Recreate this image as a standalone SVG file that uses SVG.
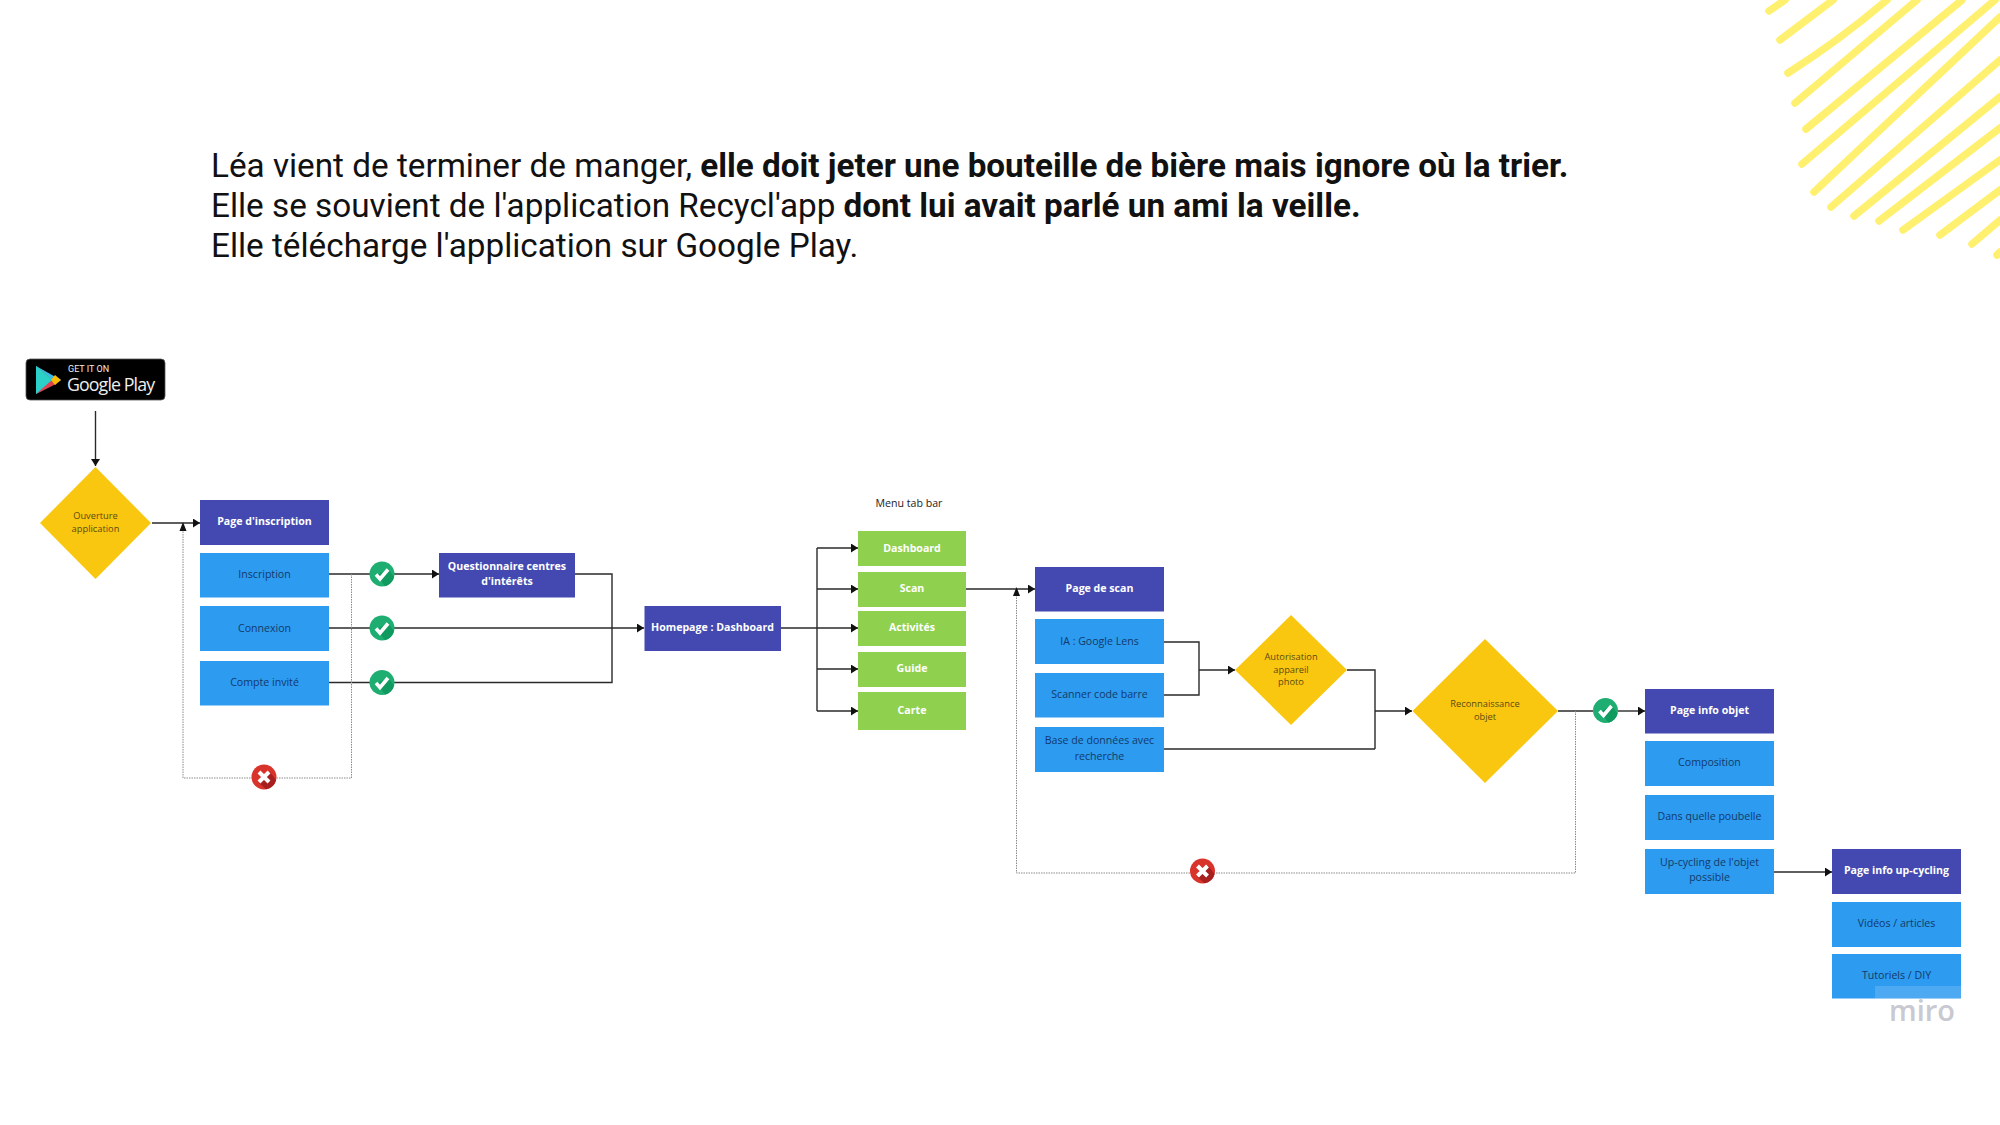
<svg xmlns="http://www.w3.org/2000/svg" width="2000" height="1125" viewBox="0 0 2000 1125">
<style>
.h{font-family:Roboto,"Liberation Sans",sans-serif;font-size:33.28px;fill:#111}
text.n{font-family:"Open Sans","Noto Sans",sans-serif;font-size:10.6px;text-anchor:middle}
text.ty{font-size:9.3px}
.p{fill:#4349b0}.b{fill:#2d9bf0}.g{fill:#8fd14f}.y{fill:#fac710}
.tw{fill:#fff;font-weight:700}.td{fill:#123a6b}.ty{fill:#5b4a12}
.c{fill:none;stroke:#2a2a2a;stroke-width:1.4}
.a{marker-end:url(#ar)}
.d{fill:none;stroke:#8a8a8a;stroke-width:1;stroke-dasharray:1.5 1}
.s{fill:none;stroke:#fff070;stroke-width:7.5;stroke-linecap:round}
</style>
<defs>
<marker id="ar" markerUnits="userSpaceOnUse" markerWidth="8" markerHeight="10" refX="7" refY="4.5" orient="auto"><path d="M0 0L7 4.5L0 9z" fill="#111"/></marker>
<g id="ok"><circle r="12.5" fill="#1fae72"/><path d="M-5 1L3 12.2A12.5 12.5 0 0 0 12 3L6-5z" fill="#0f9a60"/><path d="M-6 0.5L-2 5L6-4.5" fill="none" stroke="#fff" stroke-width="3.6"/></g>
<g id="ko"><circle r="12.5" fill="#d9342c"/><path d="M-5 6L2 12.3A12.5 12.5 0 0 0 12 3L6-5z" fill="#a81f20"/><path d="M-5-5L5 5M5-5L-5 5" fill="none" stroke="#fff" stroke-width="4"/></g>
</defs>
<rect width="2000" height="1125" fill="#fff"/>
<g id="stripes">
<path class="s" d="M1769 11L1785 0M1780 40L1833 0M1788 73Q1840 40 1887 0M1795 103L1917 0M1806 129L1962 0M1802 164L1995 0M1814 192L2000 17M1831 207L2000 60M1854 216L2000 97M1879 221L2000 128M1903 230L2000 160M1940 235L2000 190M1972 244L2000 220M1997 255L2000 252"/>
</g>
<g id="heading">
<text class="h" x="211" y="177">Léa vient de terminer de manger, <tspan font-weight="700">elle doit jeter une bouteille de bière mais ignore où la trier.</tspan></text>
<text class="h" x="211" y="217">Elle se souvient de l'application Recycl'app <tspan font-weight="700">dont lui avait parlé un ami la veille.</tspan></text>
<text class="h" x="211" y="257">Elle télécharge l'application sur Google Play.</text>
</g>
<g id="connectors">
<path class="c a" d="M95.500 411V466"/>
<path class="c a" d="M152 523H200"/>
<path class="c" d="M329 574H370"/>
<path class="c a" d="M394 574H439"/>
<path class="c a" d="M329 628H644"/>
<path class="c" d="M329 682.500H612V574H575"/>
<path class="c" d="M781 628H817"/>
<path class="c a" d="M817 548H858"/>
<path class="c" d="M817 548V711"/>
<path class="c a" d="M817 589H858"/>
<path class="c a" d="M817 628H858"/>
<path class="c a" d="M817 669H858"/>
<path class="c a" d="M817 711H858"/>
<path class="c a" d="M966 589H1035"/>
<path class="c" d="M1164 642H1199V695H1164"/>
<path class="c a" d="M1199 670H1235"/>
<path class="c" d="M1164 749H1375"/>
<path class="c" d="M1347 670H1375V749"/>
<path class="c a" d="M1375 711H1412"/>
<path class="c" d="M1558 711H1593"/>
<path class="c a" d="M1618 711H1645"/>
<path class="c a" d="M1774 872H1832"/>
<path class="d" d="M351.500 574V778H183V527"/>
<path d="M183 522L186.500 531H179.500z" fill="#111"/>
<path class="d" d="M1575.500 711V873H1016.500V590"/>
<path d="M1016.500 587L1020 596H1013z" fill="#111"/>
</g>
<g id="google-play">
<rect x="26" y="359" width="139" height="41" rx="4" fill="#000" stroke="#555" stroke-width="0.8"/>
<path d="M36 366L61 380L36 394z" fill="#3fb8e8"/>
<path d="M36 366L52 380L36 394z" fill="#2bd0c8"/>
<path d="M36 366L52 380L46 374z" fill="#35c46a"/>
<path d="M36 394L52 380L56 384z" fill="#e0434f"/>
<path d="M55 375L61 380L55 385L51 380z" fill="#fbbc05"/>
<text x="68" y="372" font-family="Roboto,sans-serif" font-size="9" fill="#eee">GET IT ON</text>
<text x="67" y="391" font-family="'Open Sans',sans-serif" font-size="17.800" letter-spacing="-0.900" fill="#eee">Google Play</text>
</g>
<g id="ouverture"><path class="y" d="M95.500 467L151 523L95.500 579L40 523z"/><text class="n ty" x="95.500" y="519">Ouverture</text><text class="n ty" x="95.500" y="532">application</text></g>
<g id="page-inscription"><rect class="p" x="200" y="500" width="129" height="45"/><text class="n tw" x="264.500" y="525">Page d'inscription</text></g>
<g id="inscription"><rect class="b" x="200" y="553" width="129" height="44.500"/><text class="n td" x="264.500" y="578">Inscription</text></g>
<g id="connexion"><rect class="b" x="200" y="606" width="129" height="45"/><text class="n td" x="264.500" y="632">Connexion</text></g>
<g id="compte"><rect class="b" x="200" y="661" width="129" height="44.500"/><text class="n td" x="264.500" y="686">Compte invité</text></g>
<g id="check-1"><use href="#ok" x="382" y="574"/></g>
<g id="check-2"><use href="#ok" x="382" y="628"/></g>
<g id="check-3"><use href="#ok" x="382" y="682.500"/></g>
<g id="error-1"><use href="#ko" x="264" y="777"/></g>
<g id="questionnaire"><rect class="p" x="439" y="553" width="136" height="44.500"/><text class="n tw" x="507" y="570">Questionnaire centres</text><text class="n tw" x="507" y="585">d'intérêts</text></g>
<g id="homepage"><rect class="p" x="644.500" y="606" width="136.500" height="45"/><text class="n tw" x="712.500" y="631">Homepage : Dashboard</text></g>
<g id="menu-label"><text class="n" fill="#222" x="909" y="507">Menu tab bar</text></g>
<g id="dashboard"><rect class="g" x="858" y="531" width="108" height="35"/><text class="n tw" x="912" y="552">Dashboard</text></g>
<g id="scan"><rect class="g" x="858" y="572" width="108" height="35"/><text class="n tw" x="912" y="592">Scan</text></g>
<g id="activites"><rect class="g" x="858" y="611" width="108" height="35"/><text class="n tw" x="912" y="631">Activités</text></g>
<g id="guide"><rect class="g" x="858" y="652" width="108" height="35"/><text class="n tw" x="912" y="672">Guide</text></g>
<g id="carte"><rect class="g" x="858" y="692" width="108" height="38"/><text class="n tw" x="912" y="714">Carte</text></g>
<g id="page-scan"><rect class="p" x="1035" y="567" width="129" height="44.500"/><text class="n tw" x="1099.500" y="592">Page de scan</text></g>
<g id="ia"><rect class="b" x="1035" y="619" width="129" height="45"/><text class="n td" x="1099.500" y="645">IA : Google Lens</text></g>
<g id="scanner"><rect class="b" x="1035" y="673" width="129" height="44.500"/><text class="n td" x="1099.500" y="698">Scanner code barre</text></g>
<g id="base"><rect class="b" x="1035" y="727" width="129" height="45"/><text class="n td" x="1099.500" y="744">Base de données avec</text><text class="n td" x="1099.500" y="760">recherche</text></g>
<g id="autorisation"><path class="y" d="M1291 615L1347 670L1291 725L1235 670z"/><text class="n ty" x="1291" y="660">Autorisation</text><text class="n ty" x="1291" y="673">appareil</text><text class="n ty" x="1291" y="685">photo</text></g>
<g id="error-2"><use href="#ko" x="1202.500" y="871"/></g>
<g id="reconnaissance"><path class="y" d="M1485 639L1558 711L1485 783L1412.500 711z"/><text class="n ty" x="1485" y="707">Reconnaissance</text><text class="n ty" x="1485" y="720">objet</text></g>
<g id="check-4"><use href="#ok" x="1605.500" y="710.500"/></g>
<g id="page-objet"><rect class="p" x="1645" y="689" width="129" height="44.500"/><text class="n tw" x="1709.500" y="714">Page info objet</text></g>
<g id="composition"><rect class="b" x="1645" y="741" width="129" height="45"/><text class="n td" x="1709.500" y="766">Composition</text></g>
<g id="poubelle"><rect class="b" x="1645" y="795" width="129" height="45"/><text class="n td" x="1709.500" y="820">Dans quelle poubelle</text></g>
<g id="upcycling"><rect class="b" x="1645" y="849" width="129" height="45"/><text class="n td" x="1709.500" y="866">Up-cycling de l'objet</text><text class="n td" x="1709.500" y="881">possible</text></g>
<g id="page-upcycling"><rect class="p" x="1832" y="849" width="129" height="45"/><text class="n tw" x="1896.500" y="874">Page info up-cycling</text></g>
<g id="videos"><rect class="b" x="1832" y="902" width="129" height="45"/><text class="n td" x="1896.500" y="927">Vidéos / articles</text></g>
<g id="tutoriels"><rect class="b" x="1832" y="954" width="129" height="44.500"/><text class="n td" x="1896.500" y="979">Tutoriels / DIY</text></g>
<g id="miro"><rect x="1875" y="986" width="86" height="12.500" fill="#fff" opacity="0.15"/><text x="1922" y="1021" font-family="'Open Sans',sans-serif" font-size="29" font-weight="600" fill="#c9c9d1" text-anchor="middle">miro</text></g>
</svg>
